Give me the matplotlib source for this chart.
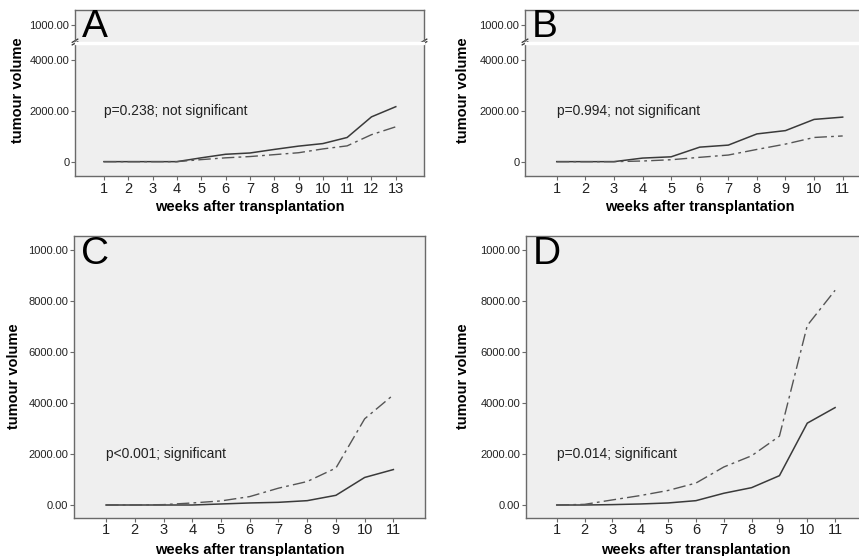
import matplotlib.pyplot as plt

plt.rcParams['font.family'] = ['Liberation Sans', 'DejaVu Sans']

W, H = 859, 556

# data
weeks_a = list(range(1, 14))
a_solid = [0, 0, 0, 0, 150, 290, 340, 480, 610, 710, 950, 1760, 2160]
a_dash = [0, 0, 0, 0, 80, 150, 200, 275, 350, 500, 620, 1060, 1370]

weeks_b = list(range(1, 12))
b_solid = [0, 0, 0, 140, 190, 570, 650, 1090, 1220, 1660, 1750]
b_dash = [0, 0, 0, 25, 75, 170, 260, 480, 690, 950, 1010]

weeks_c = list(range(1, 12))
c_solid = [0, 0, 0, 0, 40, 80, 105, 170, 380, 1080, 1390]
c_dash = [0, 0, 15, 80, 160, 330, 660, 920, 1450, 3380, 4320]

weeks_d = list(range(1, 12))
d_solid = [0, 0, 15, 40, 80, 170, 460, 680, 1150, 3210, 3820]
d_dash = [0, 25, 200, 370, 570, 860, 1490, 1930, 2700, 7040, 8420]

letters = ['A', 'B', 'C', 'D']
notes = ['p=0.238; not significant', 'p=0.994; not significant',
         'p<0.001; significant', 'p=0.014; significant']

top_ticks = [10000]
top_labels = ['1000.00']
low_ticks_ab = [0, 2000, 4000]
low_labels_ab = ['0', '2000.00', '4000.00']
ticks_cd = [0, 2000, 4000, 6000, 8000, 10000]
labels_cd = ['0.00', '2000.00', '4000.00', '6000.00', '8000.00', '1000.00']

FACE = '#efefef'
EDGE = '#6a6a6a'


def rect(x0, y0, x1, y1):
    return [x0 / W, 1 - y1 / H, (x1 - x0) / W, (y1 - y0) / H]


def style(ax):
    ax.set_facecolor(FACE)
    for s in ax.spines.values():
        s.set_color(EDGE)
        s.set_linewidth(1.0)
    ax.tick_params(axis='y', direction='out', length=3, width=0.8,
                   color=EDGE, labelsize=8, pad=1, labelcolor='#222222')
    ax.tick_params(axis='x', direction='out', length=3, width=0.8,
                   color=EDGE, labelsize=10.5, pad=1, labelcolor='#222222')


def draw_lines(ax, weeks, solid, dash):
    ax.plot(weeks, solid, color='#3a3a3a', lw=1.1)
    ax.plot(weeks, dash, color='#555555', lw=1.0, dashes=(9, 3, 2, 3))


def break_mark(ax, x):
    for dy in (-0.04, 0.04):
        ax.plot([x - 0.008, x + 0.008], [dy - 0.05, dy + 0.05],
                transform=ax.transAxes, color='#333333', lw=0.9, clip_on=False)


fig = plt.figure(figsize=(W / 100, H / 100), dpi=100)

# top row: broken y axes
top_panels = [
    (75, 424, -0.19, 14.16, weeks_a, a_solid, a_dash, 0, 18),
    (525, 875, -0.11, 12.13, weeks_b, b_solid, b_dash, 1, 463),
]
for x0, x1, xl, xr, wk, s, d, i, ylx in top_panels:
    up = fig.add_axes(rect(x0, 10, x1, 42))
    lo = fig.add_axes(rect(x0, 43.5, x1, 176))
    for ax in (up, lo):
        style(ax)
        ax.set_xlim(xl, xr)
        draw_lines(ax, wk, s, d)
    up.spines['bottom'].set_visible(False)
    lo.spines['top'].set_visible(False)
    up.set_ylim(9318, 10580)
    up.set_yticks(top_ticks)
    up.set_yticklabels(top_labels)
    up.set_xticks([])
    lo.set_ylim(-564, 4643)
    lo.set_yticks(low_ticks_ab)
    lo.set_yticklabels(low_labels_ab)
    lo.set_xticks(wk)
    lo.set_xlabel('weeks after transplantation', fontsize=10.5,
                  fontweight='bold', labelpad=3)
    up.text(0.02, 1.02, letters[i], transform=up.transAxes, fontsize=28,
            va='top', ha='left')
    lo.text(1, 2000, notes[i], fontsize=10, va='center', ha='left',
            color='#222222')
    fig.text(ylx / W, 1 - 90 / H, 'tumour volume', rotation=90,
             fontsize=10.5, fontweight='bold', va='center', ha='center')
    # white gap and break marks
    fig.patches.append(plt.Rectangle((x0 / W, 1 - 43.5 / H), (x1 - x0) / W,
                                     1.5 / H, transform=fig.transFigure,
                                     color='white', zorder=5))
    break_mark(up, 0.0)
    break_mark(up, 1.0)

# bottom row
bottom_panels = [
    (74, 425, -0.115, 12.1, weeks_c, c_solid, c_dash, 2, 14),
    (525.7, 866, -0.115, 12.11, weeks_d, d_solid, d_dash, 3, 463),
]
for x0, x1, xl, xr, wk, s, d, i, ylx in bottom_panels:
    ax = fig.add_axes(rect(x0, 235.7, x1, 517.7))
    style(ax)
    draw_lines(ax, wk, s, d)
    ax.set_xlim(xl, xr)
    ax.set_ylim(-498, 10561)
    ax.set_yticks(ticks_cd)
    ax.set_yticklabels(labels_cd)
    ax.set_xticks(wk)
    ax.set_xlabel('weeks after transplantation', fontsize=10.5,
                  fontweight='bold', labelpad=4)
    ax.text(0.02, 1.0, letters[i], transform=ax.transAxes, fontsize=28,
            va='top', ha='left')
    ax.text(1, 2000, notes[i], fontsize=10, va='center', ha='left',
            color='#222222')
    fig.text(ylx / W, 1 - 376 / H, 'tumour volume', rotation=90,
             fontsize=10.5, fontweight='bold', va='center', ha='center')

fig.savefig('out.png', dpi=100, facecolor='white')
